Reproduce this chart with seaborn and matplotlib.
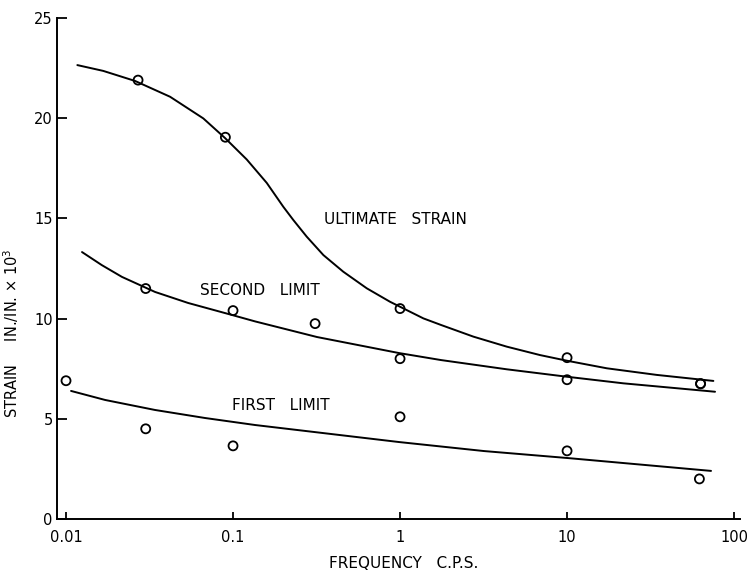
import matplotlib
matplotlib.use("Agg")
import matplotlib.pyplot as plt
import seaborn as sns
import pandas as pd

# Measured points (frequency in c.p.s., strain in in./in. x 10^3)
ult_freq = [0.027, 0.09, 1.0, 10.0, 63.0]
ult_strain = [21.9, 19.05, 10.5, 8.05, 6.75]

second_freq = [0.03, 0.1, 0.31, 1.0, 10.0, 63.0]
second_strain = [11.5, 10.4, 9.75, 8.0, 6.95, 6.75]

first_freq = [0.01, 0.03, 0.1, 1.0, 10.0, 62.0]
first_strain = [6.9, 4.5, 3.65, 5.1, 3.4, 2.0]

# Faired curves through each set of points
ult_curve_freq = [0.01169, 0.01671, 0.02588, 0.04198, 0.06637, 0.08954,
                  0.1208, 0.1592, 0.2000, 0.2296, 0.2761, 0.3475, 0.4571,
                  0.6324, 0.8710, 1.380, 1.762, 2.748, 4.355, 6.887, 9.954,
                  17.30, 34.43, 75.16]
ult_curve_strain = [22.65, 22.36, 21.86, 21.07, 19.99, 19.01,
                    17.94, 16.77, 15.58, 14.92, 14.09, 13.17, 12.34,
                    11.51, 10.84, 10.01, 9.68, 9.10, 8.60, 8.18, 7.90,
                    7.52, 7.19, 6.89]

second_curve_freq = [0.01247, 0.01637, 0.02163, 0.03412, 0.05383, 0.09863,
                     0.1355, 0.3184, 0.9863, 1.762, 4.355, 9.954, 21.73,
                     76.91]
second_curve_strain = [13.32, 12.67, 12.08, 11.33, 10.78, 10.18,
                       9.86, 9.08, 8.28, 7.93, 7.47, 7.10, 6.77, 6.35]

first_curve_freq = [0.01072, 0.01714, 0.03412, 0.06792, 0.1355, 0.9863,
                    3.184, 10.14, 72.78]
first_curve_strain = [6.39, 5.94, 5.44, 5.04, 4.69, 3.84, 3.39, 3.04, 2.40]

x_ticks = [0.01, 0.1, 1, 10, 100]
x_tick_labels = ["0.01", "0.1", "1", "10", "100"]
y_ticks = [0, 5, 10, 15, 20, 25]

sns.set_theme(style="ticks")
plt.rcParams["font.family"] = ["DejaVu Sans"]

fig = plt.figure(figsize=(7.49, 5.75), dpi=100)
ax = fig.add_axes([0.0761, 0.0974, 0.912, 0.8713])

curves = [
    (ult_curve_freq, ult_curve_strain),
    (second_curve_freq, second_curve_strain),
    (first_curve_freq, first_curve_strain),
]
for cf, cs in curves:
    df = pd.DataFrame({"freq": cf, "strain": cs})
    sns.lineplot(data=df, x="freq", y="strain", sort=False,
                 estimator=None, color="black", linewidth=1.4, ax=ax)
for ln in ax.get_lines():
    ln.set_solid_joinstyle("round")
    ln.set_solid_capstyle("round")

points = [
    (ult_freq, ult_strain),
    (second_freq, second_strain),
    (first_freq, first_strain),
]
for pf, ps in points:
    df = pd.DataFrame({"freq": pf, "strain": ps})
    sns.scatterplot(data=df, x="freq", y="strain", marker="o", s=42,
                    facecolor="none", edgecolor="black", linewidth=1.3,
                    zorder=3, ax=ax)

ax.set_xscale("log")
ax.set_xlim(10 ** -2.054, 10 ** 2.036)
ax.set_ylim(0, 25)
ax.set_xticks(x_ticks)
ax.set_xticklabels(x_tick_labels)
ax.minorticks_off()
ax.set_yticks(y_ticks)
ax.set_yticklabels([str(v) for v in y_ticks])

for side in ("top", "right"):
    ax.spines[side].set_visible(False)
for side in ("left", "bottom"):
    ax.spines[side].set_color("black")
    ax.spines[side].set_linewidth(1.4)

ax.tick_params(axis="y", direction="in", length=7, width=1.3, pad=3,
               labelsize=10.5, colors="black")
ax.tick_params(axis="x", direction="in", length=5, width=1.3, pad=8,
               labelsize=10.5, colors="black")

ax.set_xlabel("FREQUENCY   C.P.S.", fontsize=11, color="black")
ax.xaxis.set_label_coords(0.508, -0.074)
ax.set_ylabel("STRAIN     IN./IN. \u00d7 10$^3$", fontsize=10.5, color="black")
ax.yaxis.set_label_coords(-0.052, 0.37)

ax.text(0.351, 14.92, "ULTIMATE   STRAIN", fontsize=11, color="black",
        va="center", ha="left")
ax.text(0.0634, 11.38, "SECOND   LIMIT", fontsize=11, color="black",
        va="center", ha="left")
ax.text(0.0986, 5.64, "FIRST   LIMIT", fontsize=11, color="black",
        va="center", ha="left")

fig.savefig("out.png", dpi=100, facecolor="white")
